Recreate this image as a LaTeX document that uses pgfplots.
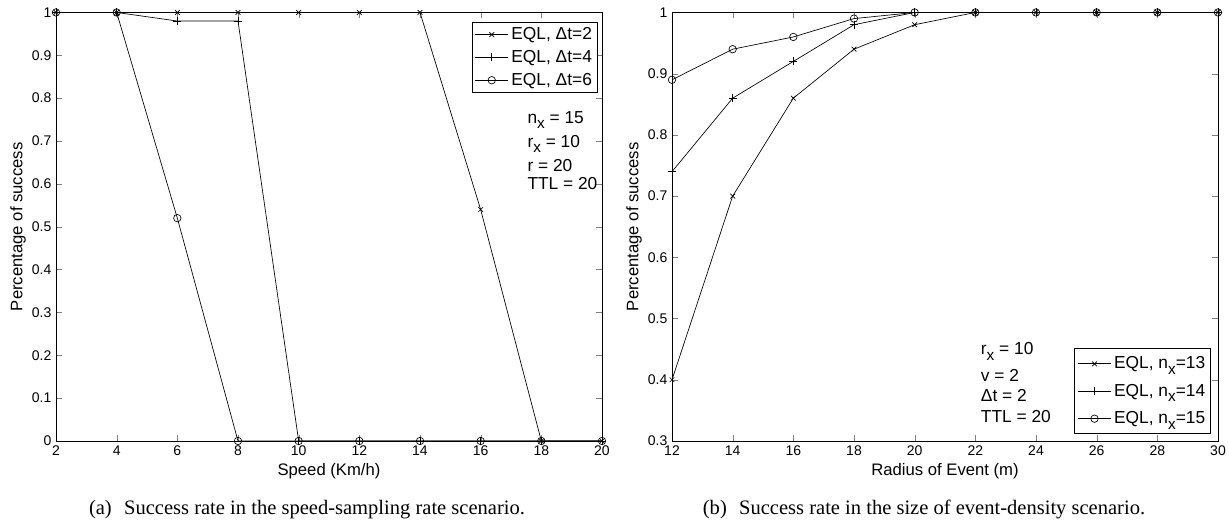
\documentclass[border=0pt]{standalone}
\usepackage{pgfplots}
\pgfplotsset{compat=1.18}
\usepackage{fontspec}
\setmainfont{Liberation Sans}
\newfontfamily\capfont{Liberation Serif}
\newcommand{\sub}[1]{\raisebox{-0.6ex}{\fontsize{11.5}{12}\selectfont #1}}

\begin{document}
\begin{tikzpicture}
\useasboundingbox (-42pt,-61.5pt) rectangle (879.75pt,330.75pt);
\pgfplotsset{
  every axis/.append style={
    scale only axis, width=409.5pt, height=321.4pt,
    /pgf/number format/assume math mode=true,
    tick label style={font=\fontsize{10.5}{12}\selectfont},
    label style={font=\fontsize{12.5}{14}\selectfont},
    x label style={at={(axis description cs:0.5,0)}, anchor=base, yshift=-26pt},
    y label style={at={(axis description cs:-0.0696,0.5)}, anchor=center},
    legend style={font=\fontsize{13}{15}\selectfont, draw=black, line width=0.6pt, inner xsep=2pt, inner ysep=2pt},
    legend cell align=left,
    legend image code/.code={\draw[mark repeat=2,mark phase=2,line width=0.5pt] plot coordinates {(0pt,0pt) (12.5pt,0pt) (25pt,0pt)};},
    every axis plot/.append style={black, line width=0.5pt},
    axis line style={line width=0.7pt},
    major tick length=4.5pt,
    tick align=inside,
  }
}
% ---------- (a) ----------
\begin{axis}[
  xmin=2, xmax=20, ymin=0, ymax=1,
  xtick={2,4,6,8,10,12,14,16,18,20},
  ytick={0,0.1,0.2,0.3,0.4,0.5,0.6,0.7,0.8,0.9,1},
  xlabel={Speed (Km/h)},
  ylabel={Percentage of success},
  legend style={at={(0.992,0.812)}, anchor=south east, row sep=2.5pt},
]
\addplot[mark=x, mark size=2.5pt] coordinates {(2,1)(4,1)(6,1)(8,1)(10,1)(12,1)(14,1)(16,0.54)(18,0)(20,0)};
\addlegendentry{EQL, Δt=2}
\addplot[mark=+, mark size=3pt] coordinates {(2,1)(4,1)(6,0.98)(8,0.98)(10,0)(12,0)(14,0)(16,0)(18,0)(20,0)};
\addlegendentry{EQL, Δt=4}
\addplot[mark=o, mark size=2.8pt] coordinates {(2,1)(4,1)(6,0.52)(8,0)(10,0)(12,0)(14,0)(16,0)(18,0)(20,0)};
\addlegendentry{EQL, Δt=6}
\node[anchor=base west, font=\fontsize{13}{15}\selectfont] at (axis cs:17.39,0.741) {n\sub{x} = 15};
\node[anchor=base west, font=\fontsize{13}{15}\selectfont] at (axis cs:17.39,0.686) {r\sub{x} = 10};
\node[anchor=base west, font=\fontsize{13}{15}\selectfont] at (axis cs:17.39,0.629) {r = 20};
\node[anchor=base west, font=\fontsize{13}{15}\selectfont] at (axis cs:17.39,0.587) {TTL = 20};
\end{axis}
% ---------- (b) ----------
\begin{axis}[
  at={(462pt,0pt)}, anchor=south west,
  xmin=12, xmax=30, ymin=0.3, ymax=1,
  xtick={12,14,16,18,20,22,24,26,28,30},
  ytick={0.3,0.4,0.5,0.6,0.7,0.8,0.9,1},
  xlabel={Radius of Event (m)},
  ylabel={Percentage of success},
  legend style={at={(0.987,0.016)}, anchor=south east, row sep=6pt, inner ysep=4pt},
]
\addplot[mark=x, mark size=2.5pt] coordinates {(12,0.40)(14,0.70)(16,0.86)(18,0.94)(20,0.98)(22,1)(24,1)(26,1)(28,1)(30,1)};
\addlegendentry{EQL, n\sub{x}=13}
\addplot[mark=+, mark size=3pt] coordinates {(12,0.74)(14,0.86)(16,0.92)(18,0.98)(20,1)(22,1)(24,1)(26,1)(28,1)(30,1)};
\addlegendentry{EQL, n\sub{x}=14}
\addplot[mark=o, mark size=2.8pt] coordinates {(12,0.89)(14,0.94)(16,0.96)(18,0.99)(20,1)(22,1)(24,1)(26,1)(28,1)(30,1)};
\addlegendentry{EQL, n\sub{x}=15}
\node[anchor=base west, font=\fontsize{13}{15}\selectfont] at (axis cs:22.03,0.4405) {r\sub{x} = 10};
\node[anchor=base west, font=\fontsize{13}{15}\selectfont] at (axis cs:22.03,0.397) {v = 2};
\node[anchor=base west, font=\fontsize{13}{15}\selectfont] at (axis cs:22.03,0.365) {Δt = 2};
\node[anchor=base west, font=\fontsize{13}{15}\selectfont] at (axis cs:22.03,0.331) {TTL = 20};
\end{axis}
\node[anchor=base, font=\capfont\fontsize{15.4}{17}\selectfont] at (188.25pt,-55.5pt) {(a)\hspace{0.6em}Success rate in the speed-sampling rate scenario.};
\node[anchor=base, font=\capfont\fontsize{15.4}{17}\selectfont] at (651pt,-55.5pt) {(b)\hspace{0.6em}Success rate in the size of event-density scenario.};
\end{tikzpicture}
\end{document}
